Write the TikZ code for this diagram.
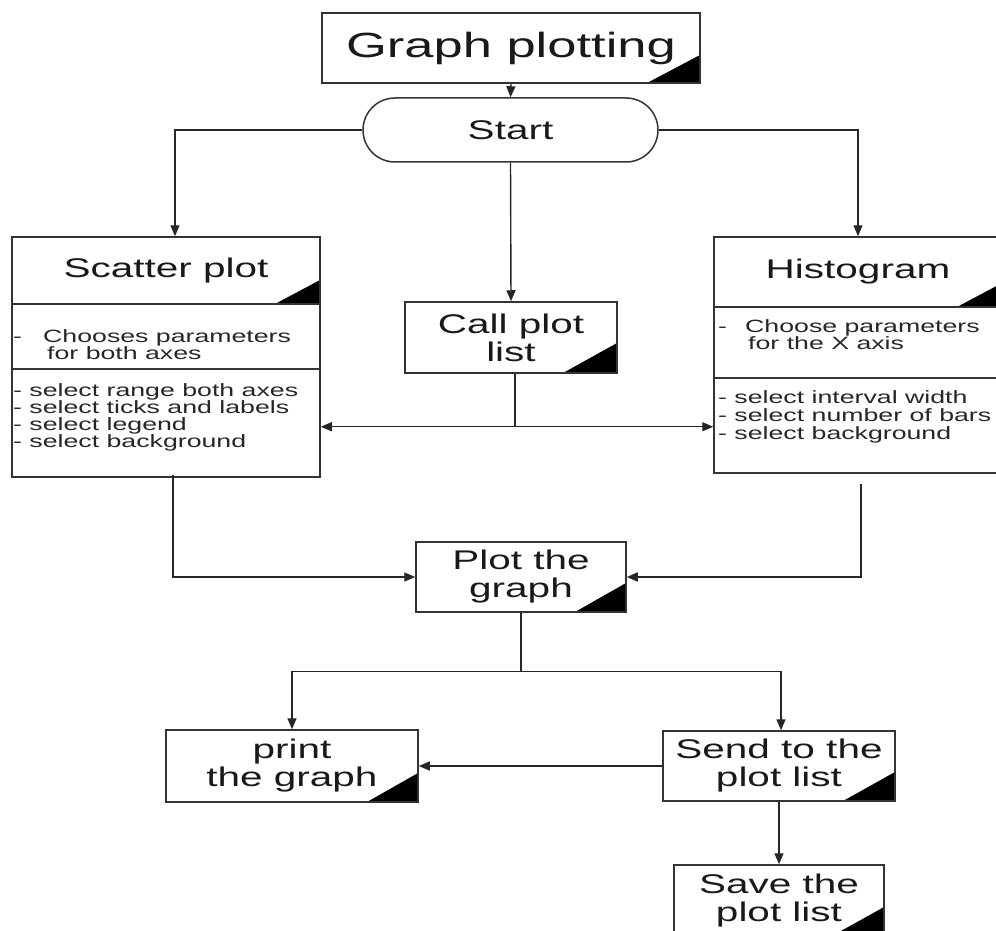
\documentclass[tikz,border=0pt]{standalone}
\usepackage{fontspec}
\setmainfont[FakeStretch=1.5]{Liberation Sans}
\usetikzlibrary{arrows.meta}

\begin{document}
\begin{tikzpicture}[x=1pt,y=-1pt,
  box/.style={draw=black!80, line width=1.5pt, rectangle, inner sep=0pt,
    align=center, text=black!90, font=\fontsize{27}{28}\selectfont},
  blackcorner/.style 2 args={path picture={
    \fill[black] (path picture bounding box.south east)
      -- ++(-#1,0pt) -- ++(#1,#2) -- cycle;}},
  conn/.style={draw=black!85, line width=1.4pt},
  arr/.style={conn, -{Triangle[length=11pt,width=9pt]}},
  small/.style={font=\fontsize{17.8}{18}\selectfont, inner sep=0pt,
    anchor=base west, text=black!85}
]
\useasboundingbox (0,0) rectangle (996,931);

% main boxes
\node[box, blackcorner={53pt}{28pt}, minimum width=378pt, minimum height=70pt,
  font=\fontsize{35}{36}\selectfont] (title) at (511,48) {Graph plotting};
\node[box, rounded corners=32pt, minimum width=295pt, minimum height=64pt]
  (start) at (510.5,130) {Start};

% scatter plot box with its three compartments
\node[box, blackcorner={45pt}{24pt}, minimum width=308pt, minimum height=67pt]
  (scattitle) at (166,270.5) {Scatter plot};
\node[box, minimum width=308pt, minimum height=65pt] (scatmid) at (166,336.5) {};
\node[box, minimum width=308pt, minimum height=108pt] (scatlow) at (166,423) {};

% histogram box with its three compartments
\node[box, blackcorner={45pt}{24pt}, minimum width=288pt, minimum height=70pt]
  (histtitle) at (858,272) {Histogram};
\node[box, minimum width=288pt, minimum height=71pt] (histmid) at (858,342.5) {};
\node[box, minimum width=288pt, minimum height=95pt] (histlow) at (858,425.5) {};

\node[box, blackcorner={54pt}{30pt}, minimum width=212pt, minimum height=71pt]
  (call) at (511,337.5) {Call plot\\list};
\node[box, blackcorner={51pt}{29pt}, minimum width=210pt, minimum height=70pt]
  (plot) at (521,577) {Plot the\\graph};
\node[box, blackcorner={51pt}{29pt}, minimum width=252pt, minimum height=72pt]
  (print) at (292,766) {print\\the graph};
\node[box, blackcorner={52pt}{29pt}, minimum width=232pt, minimum height=70pt]
  (send) at (779,766) {Send to the\\plot list};
\node[box, blackcorner={52pt}{29pt}, minimum width=210pt, minimum height=71pt]
  (save) at (779,900.5) {Save the\\plot list};

% compartment texts
\node[small] (sdash) at (13,342) {-};
\node[small] (sc1) at (43,342) {Chooses parameters};
\node[small] (sc2) at (47,359) {for both axes};
\node[small] (ss1) at (13,396) {- select range both axes};
\node[small] (ss2) at (13,413) {- select ticks and labels};
\node[small] (ss3) at (13,430) {- select legend};
\node[small] (ss4) at (13,447) {- select background};

\node[small] (hdash) at (718,332) {-};
\node[small] (hc1) at (745,332) {Choose parameters};
\node[small] (hc2) at (748,349) {for the X axis};
\node[small] (hs1) at (718,403) {- select interval width};
\node[small] (hs2) at (718,421) {- select number of bars};
\node[small] (hs3) at (718,439) {- select background};

% connectors
\draw[arr] (title.south) -- (start.north);
\draw[arr] (start.west) -| ([xshift=9pt]scattitle.north);
\draw[arr] (start.east) -| (histtitle.north);
\draw[arr] (start.south) -- (call.north);

\draw[conn] ([xshift=4pt]call.south) -- ++(0,53) coordinate (cfork);
\draw[arr] (cfork) -- (cfork -| scatlow.east);
\draw[arr] (cfork) -- (cfork -| histlow.west);

\draw[arr] ([xshift=7pt,yshift=3pt]scatlow.south) |- (plot.west);
\draw[arr] ([xshift=3pt,yshift=-10pt]histlow.south) |- (plot.east);

\draw[conn] (plot.south) -- ++(0,59) coordinate (pfork);
\draw[arr] (pfork) -| (print.north);
\draw[arr] (pfork) -| ([xshift=2pt]send.north);

\draw[arr] (send.west) -- (print.east);
\draw[arr] (send.south) -- (save.north);
\end{tikzpicture}
\end{document}
